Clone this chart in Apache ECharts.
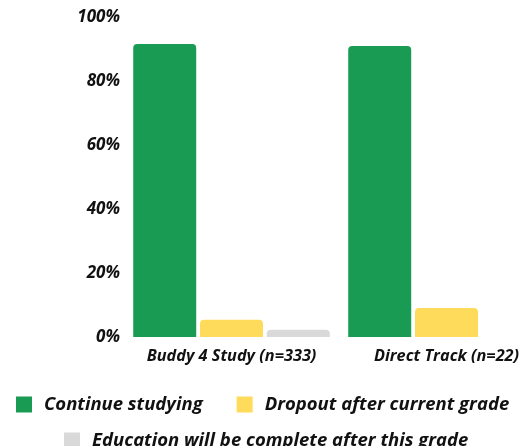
<!DOCTYPE html>
<html>
<head>
<meta charset="utf-8">
<script src="https://cdn.jsdelivr.net/npm/echarts@6/dist/echarts.min.js"></script>
<style>html,body{margin:0;padding:0;background:#fff}#c{width:519px;height:446px}</style>
</head>
<body>
<div id="c"></div>
<script>
const categories = ['Buddy 4 Study (n=333)', 'Direct Track (n=22)'];
const continueStudying = [91.6, 90.9];
const dropout = [5.4, 9.1];
const educationComplete = [2.3, 0];
const yTicks = [0, 20, 40, 60, 80, 100];

const FONT = '"Open Sans", sans-serif';
const chart = echarts.init(document.getElementById('c'));
const barStyle = (c) => ({ color: c, borderRadius: [4, 4, 0, 0] });
const legendText = { fontFamily: FONT, fontSize: 18.5, fontWeight: 'bold', fontStyle: 'italic', color: '#111', padding: [0, 0, 0, 7] };
chart.setOption({
  animation: false,
  grid: { left: 124, top: 17, width: 430, height: 320, outerBoundsMode: 'none', containLabel: false },
  legend: [
    {
      data: ['Continue studying', 'Dropout after current grade'],
      left: 11, top: 390, itemWidth: 16, itemHeight: 16, itemGap: 34,
      icon: 'rect', textStyle: legendText
    },
    {
      data: ['Education will be complete after this grade'],
      left: 59, top: 426, itemWidth: 16, itemHeight: 16,
      icon: 'rect', textStyle: legendText
    }
  ],
  xAxis: {
    type: 'category', data: categories,
    axisLine: { show: false }, axisTick: { show: false },
    axisLabel: { fontFamily: FONT, fontSize: 16.3, fontWeight: 'bold', fontStyle: 'italic', color: '#111', margin: 11, interval: 0 }
  },
  yAxis: {
    type: 'value', min: 0, max: 100, interval: 20,
    splitLine: { show: false }, axisLine: { show: false }, axisTick: { show: false },
    axisLabel: { fontFamily: FONT, fontSize: 17, fontWeight: 'bold', fontStyle: 'italic', color: '#111', margin: 4,
      formatter: (v) => yTicks.includes(v) ? v + '%' : '' }
  },
  series: [
    { name: 'Continue studying', type: 'bar', data: continueStudying, barWidth: 63, barGap: '6%', itemStyle: barStyle('#1a9b54') },
    { name: 'Dropout after current grade', type: 'bar', data: dropout, barWidth: 63, barGap: '6%', itemStyle: barStyle('#fedb5a') },
    { name: 'Education will be complete after this grade', type: 'bar', data: educationComplete, barWidth: 63, barGap: '6%', itemStyle: barStyle('#d9d9d9') }
  ]
});
</script>
</body>
</html>
